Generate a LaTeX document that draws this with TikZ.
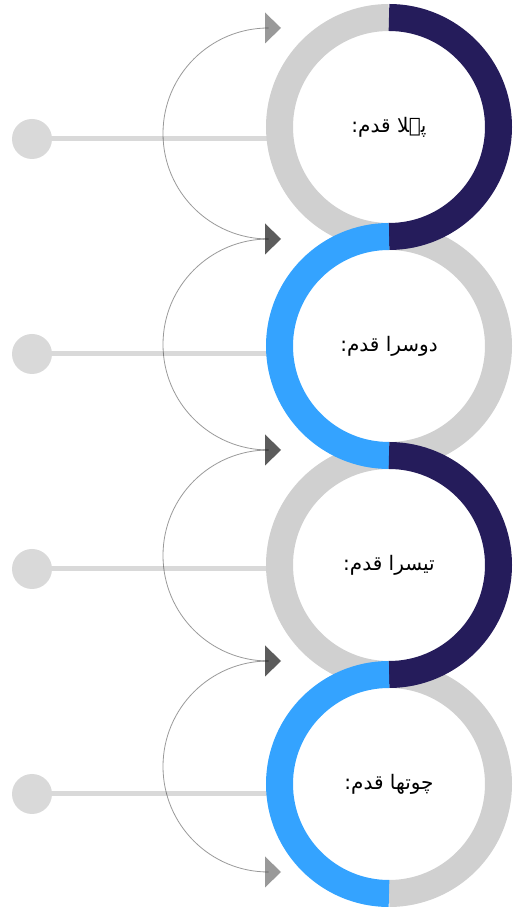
\documentclass[tikz,border=0pt]{standalone}
\usepackage{fontspec}
\usetikzlibrary{arrows.meta}
\newfontfamily\arabicfont[Script=Arabic]{DejaVu Sans}
\TeXXeTstate=1
\definecolor{ringgray}{HTML}{D0D0D0}
\definecolor{linegray}{HTML}{D9D9D9}
\definecolor{navy}{HTML}{251C5B}
\definecolor{skyblue}{HTML}{34A3FF}
\begin{document}
\begin{tikzpicture}[x=1pt,y=1pt,
  ring/.style={line width=27pt},
  dotnode/.style={circle,fill=linegray,minimum size=40pt,inner sep=0pt},
  hline/.style={draw=linegray,line width=5pt},
  flowtip/.tip={Triangle[length=16pt,width=31pt,line width=0pt]},
  flow/.style={draw=black,opacity=0.4,line width=0.8pt,flowtip-flowtip},
  steptext/.style={font=\arabicfont\fontsize{20}{24}\selectfont,text=black}]
\useasboundingbox (0,0) rectangle (520,907);
% ring centres
\coordinate (c1) at (389,780);
\coordinate (c2) at (389,561);
\coordinate (c3) at (389,342);
\coordinate (c4) at (389,123);
% left dots and lines
\node[dotnode] (d1) at (32,768) {};
\node[dotnode] (d2) at (32,553) {};
\node[dotnode] (d3) at (32,338) {};
\node[dotnode] (d4) at (32,113) {};
\coordinate (e1) at (285,768);
\coordinate (e2) at (285,553);
\coordinate (e3) at (285,338);
\coordinate (e4) at (285,113);
\foreach \i in {1,...,4}{\draw[hline] (d\i.center) -- (e\i);}
% arrow tips
\coordinate (a1) at (281,879);
\coordinate (a2) at (281,668);
\coordinate (a3) at (281,457);
\coordinate (a4) at (281,246);
\coordinate (a5) at (281,35);
\foreach \i/\j in {1/2,2/3,3/4,4/5}{
  \draw[flow] (a\i) -- ++(-12.5,0) arc[start angle=90,end angle=270,radius=105.5] -- (a\j);
}
% gray halves
\draw[ring,ringgray] ([yshift=109.5pt]c1) arc[start angle=90,end angle=270,radius=109.5];
\draw[ring,ringgray] ([yshift=109.5pt]c2) arc[start angle=90,end angle=-90,radius=109.5];
\draw[ring,ringgray] ([yshift=109.5pt]c3) arc[start angle=90,end angle=270,radius=109.5];
\draw[ring,ringgray] ([yshift=109.5pt]c4) arc[start angle=90,end angle=-90,radius=109.5];
% coloured halves
\draw[ring,navy] ([yshift=109.5pt]c1) arc[start angle=90,end angle=-90,radius=109.5];
\draw[ring,skyblue] ([yshift=109.5pt]c2) arc[start angle=90,end angle=270,radius=109.5];
\draw[ring,navy] ([yshift=109.5pt]c3) arc[start angle=90,end angle=-90,radius=109.5];
\draw[ring,skyblue] ([yshift=109.5pt]c4) arc[start angle=90,end angle=270,radius=109.5];
% texts
\node[steptext] (s1) at (c1) {\beginR پہلا قدم:\endR};
\node[steptext] (s2) at (c2) {\beginR دوسرا قدم:\endR};
\node[steptext] (s3) at (c3) {\beginR تیسرا قدم:\endR};
\node[steptext] (s4) at (c4) {\beginR چوتھا قدم:\endR};
\end{tikzpicture}
\end{document}
